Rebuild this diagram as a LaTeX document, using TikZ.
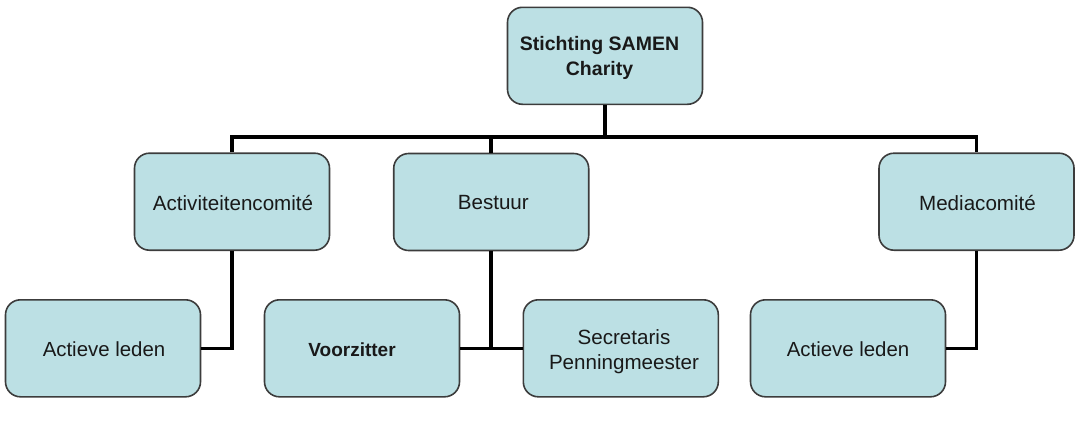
\documentclass[tikz,border=0pt]{standalone}
\usepackage{fontspec}
\setmainfont{Liberation Sans}
\definecolor{boxfill}{RGB}{188,224,228}
\definecolor{boxline}{RGB}{60,60,60}
\definecolor{txtcol}{RGB}{25,25,25}
\begin{document}
\begin{tikzpicture}[x=1pt,y=-1pt,
  orgbox/.style={draw=boxline, fill=boxfill, line width=1.6pt, rounded corners=15pt,
    minimum width=195pt, minimum height=97pt, inner sep=0pt},
  conn/.style={draw=black, line width=3.6pt},
  txt/.style={text=txtcol, inner sep=0pt, align=center},
  reg/.style={font=\fontsize{20.6}{25}\selectfont},
  big/.style={font=\fontsize{20.4}{25}\selectfont},
  bld/.style={font=\fontsize{19.5}{25}\selectfont\bfseries}
]
\useasboundingbox (0,0) rectangle (1083,423);

% boxes
\node[orgbox] (top)   at (605,55.8)  {};
\node[orgbox] (act)   at (232,201.7) {};
\node[orgbox] (best)  at (491.2,202) {};
\node[orgbox] (media) at (976.5,201.7) {};
\node[orgbox] (al1)   at (103,348.3) {};
\node[orgbox] (voorz) at (362,348.3) {};
\node[orgbox] (secr)  at (620.8,348.3) {};
\node[orgbox] (al2)   at (848,348.3) {};

% texts
\node[txt,bld] (ttop) at (599.5,58.4) {Stichting SAMEN\\Charity};
\node[txt,reg,anchor=base] (tact) at (233,210) {Activiteitencomité};
\node[txt,reg,anchor=base] (tbest) at (493.3,209) {Bestuur};
\node[txt,reg,anchor=base] (tmedia) at (977.5,210) {Mediacomité};
\node[txt,big,anchor=base] (tal1) at (104,356) {Actieve leden};
\node[txt,font=\fontsize{19}{25}\selectfont\bfseries,anchor=base] (tvoorz) at (352,356.7) {Voorzitter};
\node[txt,reg] (tsecr) at (624,352) {Secretaris\\Penningmeester};
\node[txt,big,anchor=base] (tal2) at (848,356) {Actieve leden};

% connectors
\coordinate (bus) at (605,137);
\draw[conn] (top.south) -- (bus);
\draw[conn] (act.north) |- (bus) -| (media.north);
\draw[conn] (best.north) -- (best.north |- bus);
\draw[conn] (act.south) |- (al1.east);
\draw[conn] (media.south) |- (al2.east);
\draw[conn] (best.south) -- (best.south |- voorz.east);
\draw[conn] (voorz.east) -- (secr.west);
\end{tikzpicture}
\end{document}
